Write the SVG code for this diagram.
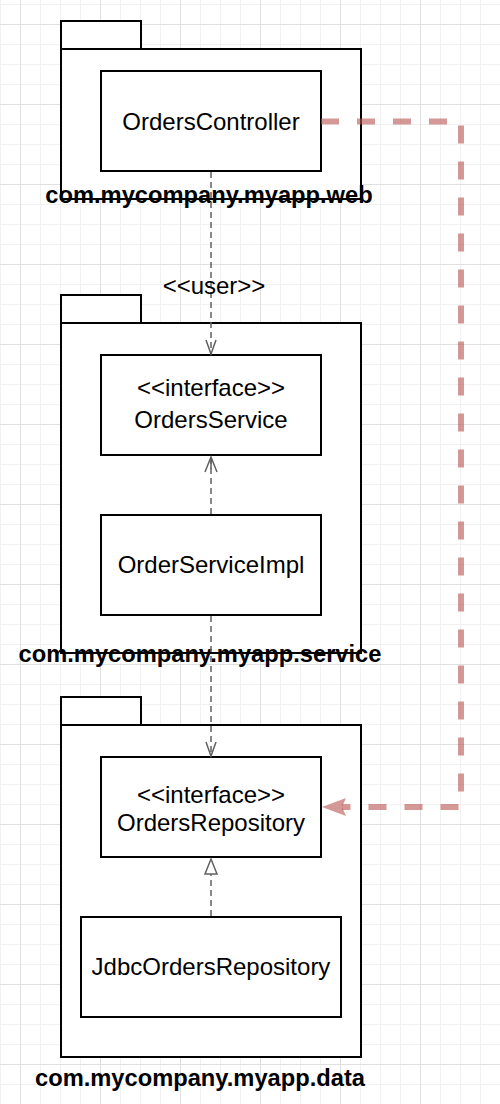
<svg xmlns="http://www.w3.org/2000/svg" width="500" height="1104" viewBox="0 0 500 1104">
  <defs>
    <pattern id="gridMinor" width="20" height="20" patternUnits="userSpaceOnUse" x="0" y="4">
      <path d="M0 0.5 H20 M0.5 0 V20" fill="none" stroke="#f1f1f1" stroke-width="1"/>
    </pattern>
    <pattern id="gridMajor" width="80" height="80" patternUnits="userSpaceOnUse" x="20" y="24">
      <path d="M0 0.5 H80 M0.5 0 V80" fill="none" stroke="#e0e0e0" stroke-width="1"/>
    </pattern>
    <marker id="openArrow" markerUnits="userSpaceOnUse" markerWidth="20" markerHeight="20" refX="15" refY="6" orient="auto">
      <path d="M1 1 L15 6 L1 11" fill="none" stroke="#606060" stroke-width="1.5"/>
    </marker>
    <marker id="hollowTri" markerUnits="userSpaceOnUse" markerWidth="20" markerHeight="20" refX="16" refY="7" orient="auto">
      <path d="M1 1 L16 7 L1 13 Z" fill="#ffffff" stroke="#606060" stroke-width="1.5"/>
    </marker>
    <marker id="hollowTriDashed" markerUnits="userSpaceOnUse" markerWidth="20" markerHeight="20" refX="16" refY="7" orient="auto">
      <path d="M1 1 L16 7 L1 13 M4 7 H16" fill="none" stroke="#606060" stroke-width="1.5"/>
    </marker>
  </defs>
  <style>
    .pkg { fill: #ffffff; stroke: #000000; stroke-width: 2; }
    .box { fill: #ffffff; stroke: #000000; stroke-width: 2; }
    .lbl { font-family: "Liberation Sans", Arial, sans-serif; font-size: 24px; fill: #000000; text-anchor: middle; }
    .pkglbl { font-family: "Liberation Sans", Arial, sans-serif; font-size: 23.7px; font-weight: bold; fill: #000000; text-anchor: middle; }
    .dep { fill: none; stroke: #606060; stroke-width: 1.5; stroke-dasharray: 6 4; }
    .hl { fill: none; stroke: #b85450; stroke-opacity: 0.6; stroke-width: 6; stroke-dasharray: 18 18; }
  </style>

  <rect x="0" y="0" width="500" height="1104" fill="#ffffff"/>
  <rect x="0" y="0" width="500" height="1104" fill="url(#gridMinor)"/>
  <rect x="0" y="0" width="500" height="1104" fill="url(#gridMajor)"/>

  <g id="pkg-web">
    <rect class="pkg" x="61" y="21" width="80" height="28"/>
    <rect class="pkg" x="61" y="49" width="300" height="150"/>
    <text class="pkglbl" x="209" y="203">com.mycompany.myapp.web</text>
  </g>
  <g id="node-orderscontroller">
    <rect class="box" x="101" y="71" width="220" height="100"/>
    <text class="lbl" x="211" y="130">OrdersController</text>
  </g>

  <g id="pkg-service">
    <rect class="pkg" x="61" y="295" width="80" height="28"/>
    <rect class="pkg" x="61" y="323" width="300" height="330"/>
    <text class="pkglbl" x="200" y="662">com.mycompany.myapp.service</text>
  </g>
  <g id="node-ordersservice">
    <rect class="box" x="101" y="355" width="220" height="100"/>
    <text class="lbl" x="211" y="396">&lt;&lt;interface&gt;&gt;</text>
    <text class="lbl" x="211" y="428">OrdersService</text>
  </g>
  <g id="node-orderserviceimpl">
    <rect class="box" x="101" y="515" width="220" height="100"/>
    <text class="lbl" x="211" y="573">OrderServiceImpl</text>
  </g>

  <g id="pkg-data">
    <rect class="pkg" x="61" y="697" width="80" height="28"/>
    <rect class="pkg" x="61" y="725" width="300" height="332"/>
    <text class="pkglbl" x="200" y="1086">com.mycompany.myapp.data</text>
  </g>
  <g id="node-ordersrepository">
    <rect class="box" x="101" y="757" width="220" height="100"/>
    <text class="lbl" x="211" y="803">&lt;&lt;interface&gt;&gt;</text>
    <text class="lbl" x="211" y="831">OrdersRepository</text>
  </g>
  <g id="node-jdbcordersrepository">
    <rect class="box" x="81" y="917" width="260" height="100"/>
    <text class="lbl" x="211" y="975">JdbcOrdersRepository</text>
  </g>

  <g id="connectors">
    <path class="dep" d="M211 172 V354" marker-end="url(#openArrow)"/>
    <text class="lbl" x="214" y="294">&lt;&lt;user&gt;&gt;</text>
    <path class="dep" d="M211 514 V457" marker-end="url(#hollowTriDashed)"/>
    <path class="dep" d="M211 616 V756" marker-end="url(#openArrow)"/>
    <path class="dep" d="M211 916 V859" marker-end="url(#hollowTri)"/>
    <path class="hl" d="M321 121.5 H461 V807 H342"/>
    <path d="M322 807 L346 798 L342 807 L346 816 Z" fill="#b85450" fill-opacity="0.6"/>
  </g>
</svg>
